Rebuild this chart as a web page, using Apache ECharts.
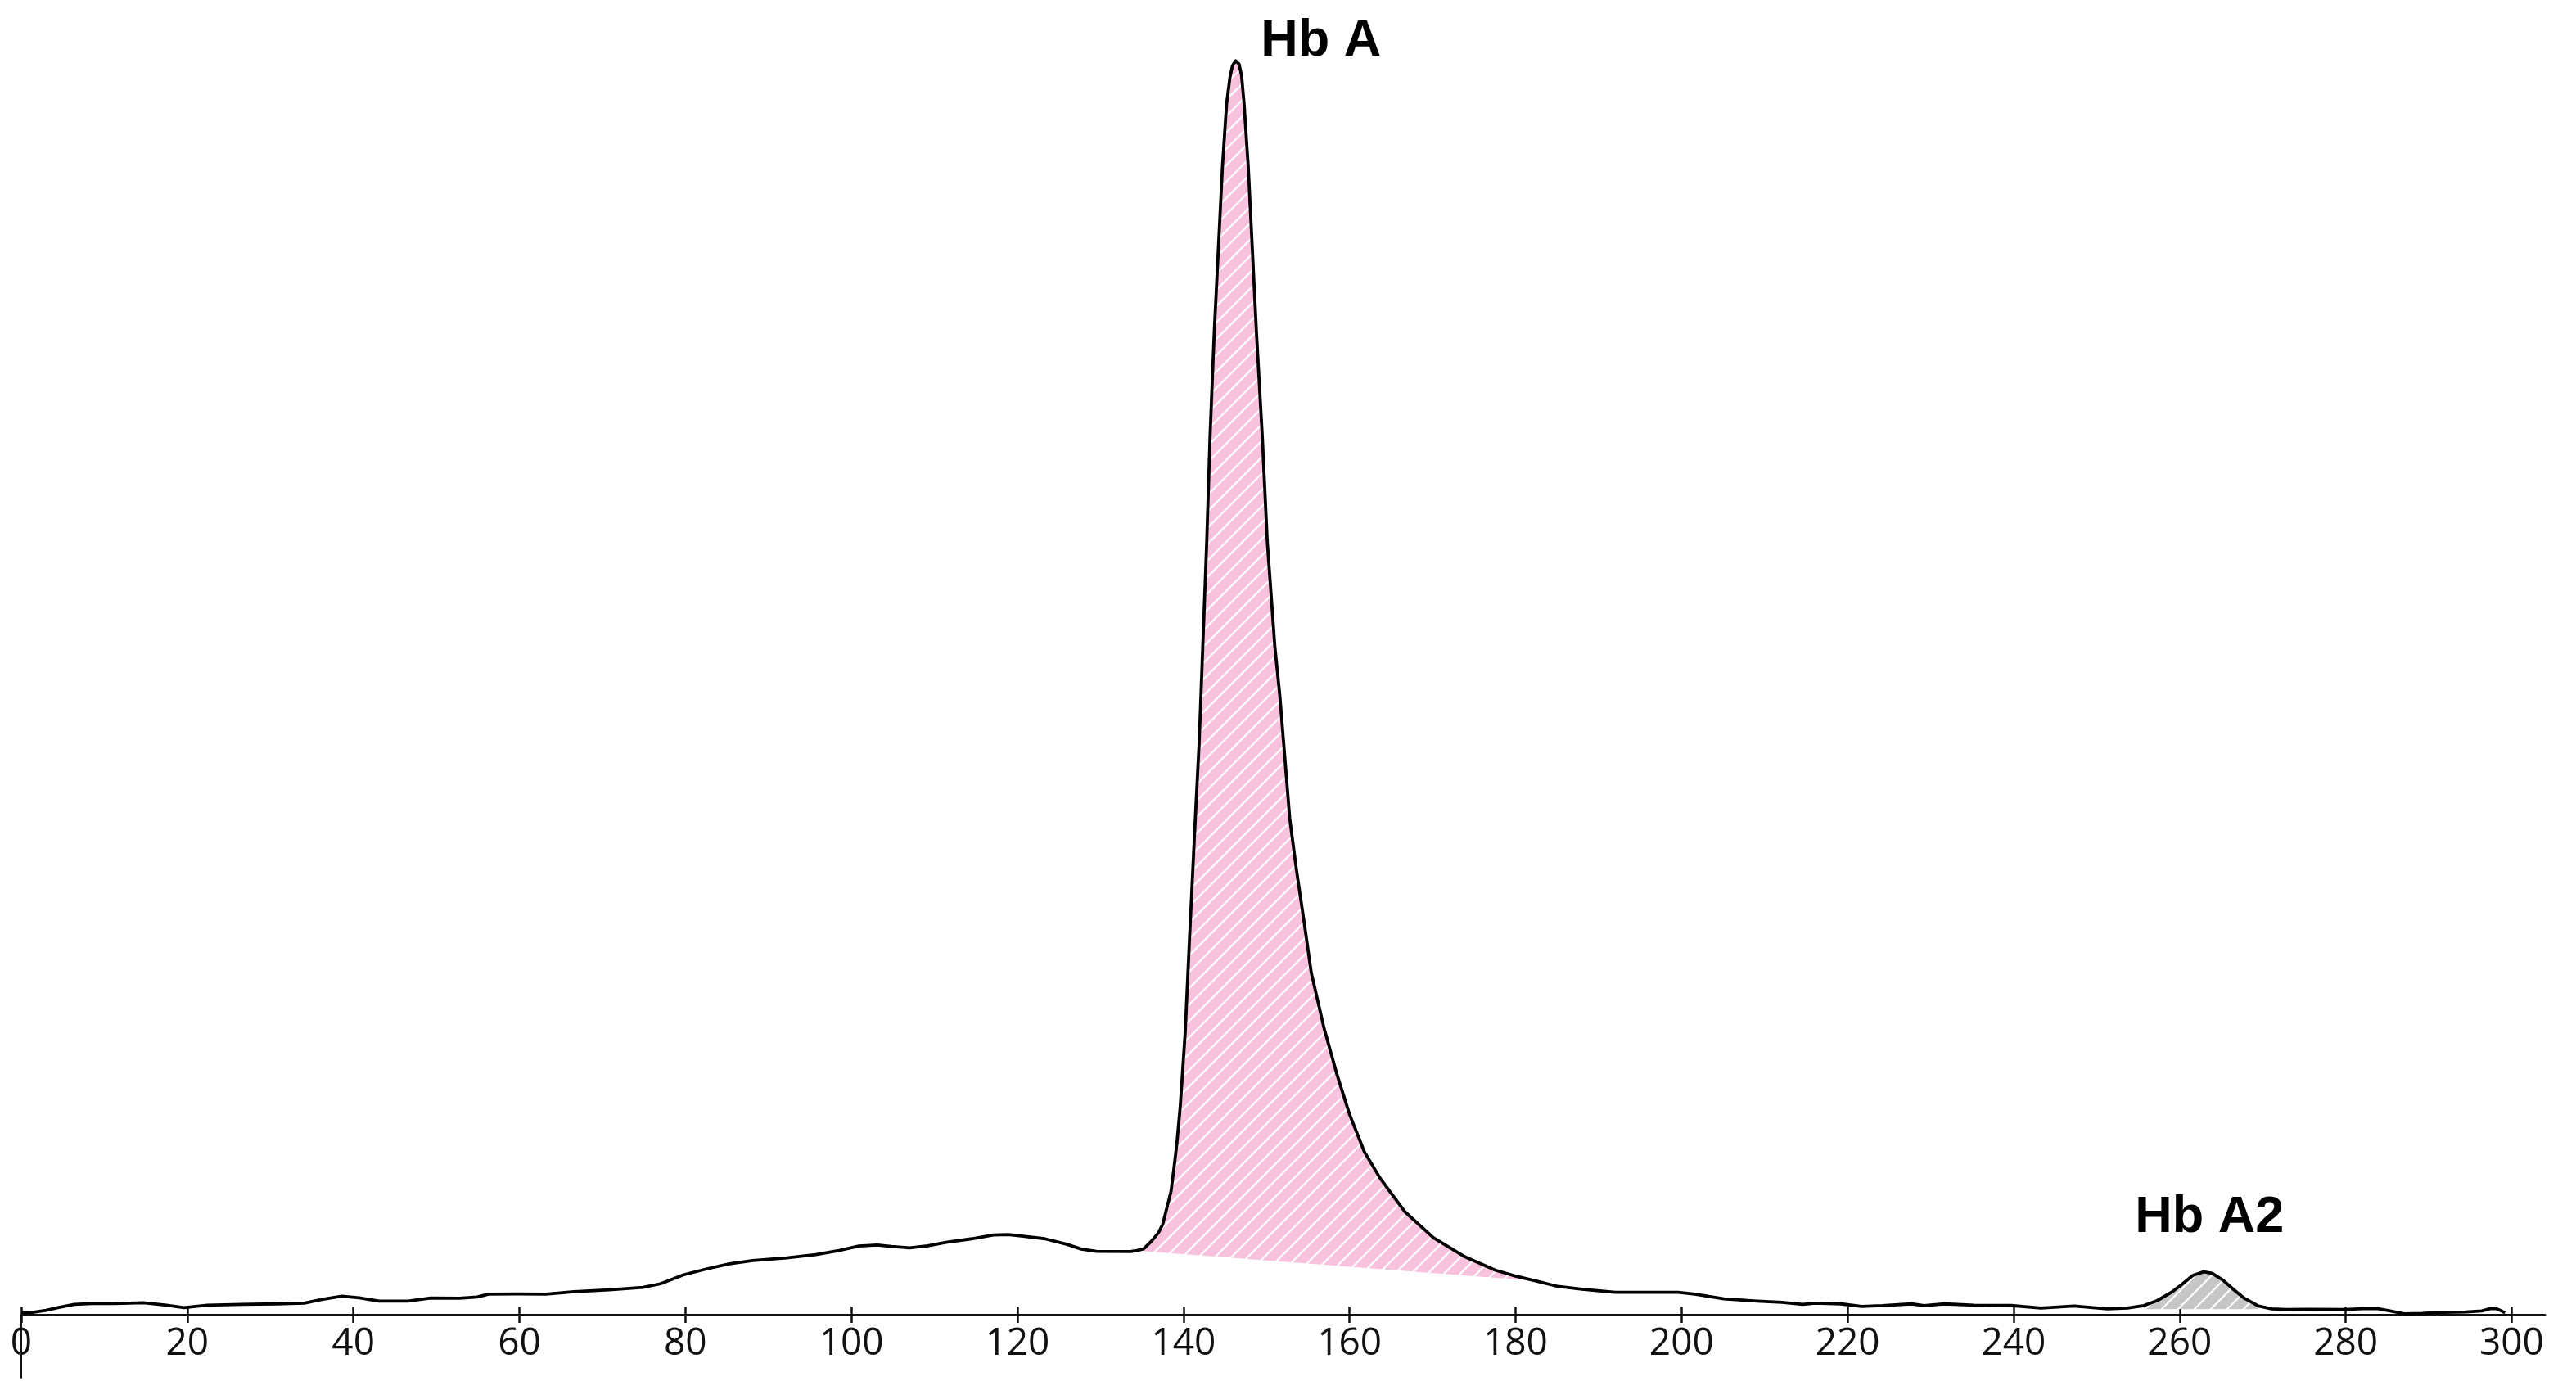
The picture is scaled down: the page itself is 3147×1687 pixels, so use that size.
<!DOCTYPE html>
<html>
<head>
<meta charset="utf-8">
<title>Hb chromatogram</title>
<script src="https://cdn.jsdelivr.net/npm/echarts@6/dist/echarts.min.js"></script>
<style>
html, body { margin: 0; padding: 0; background: #fff; }
#chart { width: 3147px; height: 1687px; }
</style>
</head>
<body>
<div id="chart"></div>
<script>
// retention time (s) of each read point
var times = [
    0, 1.2, 3.0, 4.4, 6.4, 8.5, 11.3, 14.7, 17.5, 19.6, 22.4, 26.5, 30.7, 34.1, 36.2, 38.6, 40.7, 43.1, 46.6, 49.3,
    52.8, 54.9, 56.3, 59.7, 63.2, 66.6, 70.8, 74.9, 77.0, 79.8, 82.6, 85.3, 88.1, 92.2, 95.7, 98.5, 100.9, 103.1, 104.8, 107.0,
    109.2, 111.4, 114.5, 117.1, 118.9, 120.7, 123.3, 125.9, 127.7, 129.5, 133.6, 134.4, 135.2, 136.2, 137.0, 137.5, 138.1, 138.5, 138.9, 139.2,
    139.6, 140.2, 140.75, 141.3, 141.9, 142.3, 142.8, 143.2, 143.7, 144.2, 144.7, 145.2, 145.6, 145.9, 146.3, 146.7, 147.0, 147.3, 147.8, 148.3,
    148.8, 149.5, 150.1, 151.0, 151.6, 152.05, 152.8, 153.6, 154.5, 155.4, 156.9, 158.5, 160.0, 161.8, 163.7, 165.0, 166.7, 170.1, 173.9, 177.6,
    180.0, 182.5, 185.1, 188.0, 192.0, 196.1, 199.6, 201.6, 205.1, 209.1, 212.1, 214.6, 216.1, 219.2, 221.7, 224.2, 227.7, 229.2, 231.7, 235.2,
    239.7, 243.3, 247.3, 251.3, 253.7, 255.7, 257.3, 259.0, 260.3, 261.6, 262.9, 263.9, 265.2, 266.5, 267.8, 269.5, 271.1, 272.8, 275.4, 280.0,
    282.0, 283.9, 285.6, 287.2, 289.2, 291.8, 294.5, 296.4, 297.4, 298.1, 298.8, 299.2
];
// detector signal at those times
var signal = [
    1.5, 1.3, 2.7, 4.3, 6.3, 6.8, 6.8, 7.3, 5.8, 4.3, 5.8, 6.3, 6.6, 7.0, 9.3, 11.3, 10.3, 8.3, 8.3, 10.1,
    10.0, 10.8, 12.5, 12.6, 12.5, 14.0, 15.1, 16.6, 18.8, 24.3, 27.9, 30.9, 32.9, 34.6, 36.5, 39.0, 41.8, 42.4, 41.5, 40.7,
    41.9, 44.0, 46.2, 48.5, 48.8, 47.8, 46.2, 42.9, 39.9, 38.5, 38.4, 39.0, 40.0, 45, 50, 55, 67, 75, 91, 104,
    126, 171, 231, 289, 349, 403, 470, 534, 597, 648, 699, 737, 753, 760, 763, 761, 754, 737, 699, 648,
    597, 534, 470, 407, 377, 349, 302, 271, 240, 208, 175, 146, 122, 99, 83, 74, 62.5, 46.9, 35.2, 27.0,
    23.5, 20.5, 17.2, 15.5, 13.6, 13.6, 13.6, 12.5, 9.6, 8.3, 7.5, 6.3, 7.0, 6.6, 5.0, 5.5, 6.6, 5.5, 6.6, 5.8,
    5.6, 4.0, 5.3, 3.6, 4.0, 5.6, 8.6, 13.6, 18.6, 23.9, 26.1, 25.2, 21.1, 15.3, 10.0, 5.3, 3.5, 3.2, 3.3, 3.2,
    3.7, 3.7, 2.0, 0.5, 0.8, 1.5, 1.7, 2.3, 3.7, 3.7, 2.2, 1.2
];
var tickLabels = [0, 20, 40, 60, 80, 100, 120, 140, 160, 180, 200, 220, 240, 260, 280, 300];

// integrated peaks: name, apex, baseline start / end
var peakNames = ['Hb A', 'Hb A2'];
var peakApex = [[146.3, 763], [262.9, 26.1]];
var peakBaseStart = [[134.4, 39.0], [255.7, 3.4]];
var peakBaseEnd = [[182.5, 20.5], [269.5, 3.4]];

var trace = times.map(function (t, i) { return [t, signal[i]]; });

// diagonal white hatch on a coloured ground
function hatch(bg) {
    var c = document.createElement('canvas');
    c.width = 20; c.height = 20;
    var g = c.getContext('2d');
    g.fillStyle = bg;
    g.fillRect(0, 0, 20, 20);
    g.strokeStyle = '#ffffff';
    g.lineWidth = 2.2;
    g.beginPath();
    g.moveTo(-5, 25); g.lineTo(25, -5);
    g.moveTo(-15, 15); g.lineTo(15, -15);
    g.moveTo(5, 35); g.lineTo(35, 5);
    g.stroke();
    return { image: c, repeat: 'repeat' };
}
var peakFills = [hatch('#f8c2de'), hatch('#c6c6c6')];

var chart = echarts.init(document.getElementById('chart'));
var axisColor = '#111111';

var option = {
    animation: false,
    grid: [
        { left: 26, right: 38, top: 0, bottom: 81 },
        // thin strip under the axis, only used for the origin stub
        { left: 26, right: 38, top: 1606, bottom: 4 }
    ],
    xAxis: [
        {
            type: 'value', min: 0, max: 304, position: 'bottom',
            splitLine: { show: false },
            axisLine: { onZero: false, lineStyle: { color: axisColor, width: 3 } },
            axisTick: { show: true, inside: false, length: 10, customValues: tickLabels, lineStyle: { color: axisColor, width: 2.5 } },
            axisLabel: {
                customValues: tickLabels, margin: 13,
                fontFamily: 'Open Sans', fontSize: 46, color: axisColor
            }
        },
        {
            type: 'value', min: 0, max: 304, position: 'bottom',
            splitLine: { show: false },
            axisLine: { show: false, onZero: false },
            axisTick: { show: true, inside: true, length: 10, customValues: tickLabels, lineStyle: { color: axisColor, width: 2.5 } },
            axisLabel: { show: false }
        },
        { gridIndex: 1, type: 'value', min: 0, max: 304, show: false }
    ],
    yAxis: [
        { type: 'value', min: 0, max: 800, show: false },
        {
            gridIndex: 1, type: 'value', min: 0, max: 1, position: 'left',
            splitLine: { show: false },
            axisLine: { show: true, onZero: false, lineStyle: { color: axisColor, width: 2 } },
            axisTick: { show: false },
            axisLabel: { show: false }
        }
    ],
    series: [
        {
            // hatched peak areas between trace and integration baseline
            type: 'custom',
            z: 1,
            silent: true,
            encode: { x: 0, y: 1 },
            data: peakApex.map(function (p, i) { return [p[0], p[1], i]; }),
            renderItem: function (params, api) {
                var i = params.dataIndex;
                var a = peakBaseStart[i], b = peakBaseEnd[i];
                var pts = trace.filter(function (p) { return p[0] >= a[0] && p[0] <= b[0]; })
                    .map(function (p) { return api.coord(p); });
                pts.push(api.coord(b), api.coord(a));
                return { type: 'polygon', shape: { points: pts }, style: { fill: peakFills[i] } };
            }
        },
        {
            type: 'line',
            z: 3,
            data: trace,
            showSymbol: false,
            symbol: 'none',
            lineStyle: { color: '#000000', width: 3.8, join: 'round' },
            markPoint: {
                symbol: 'circle',
                symbolSize: 0,
                silent: true,
                label: {
                    show: true, position: 'inside', formatter: '{b}',
                    fontFamily: 'Liberation Sans', fontWeight: 'bold', fontSize: 63, color: '#000'
                },
                data: [
                    { name: peakNames[0], coord: peakApex[0], label: { offset: [104, -24] } },
                    { name: peakNames[1], coord: peakApex[1], label: { offset: [7, -66] } }
                ]
            }
        }
    ]
};
chart.setOption(option);
</script>
</body>
</html>
